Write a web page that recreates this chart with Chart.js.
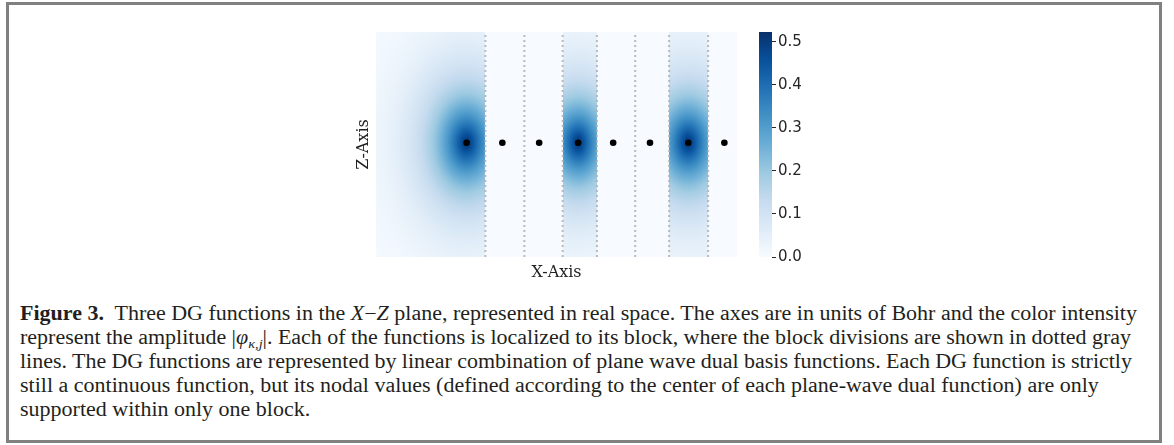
<!DOCTYPE html>
<html>
<head>
<meta charset="utf-8">
<title>DG functions in the X-Z plane</title>
<script src="https://cdn.jsdelivr.net/npm/chart.js"></script>
<style>
  body { margin: 0; background: #fff; width: 1174px; height: 445px; position: relative; overflow: hidden; }
  #frame { position: absolute; left: 6px; top: 2px; width: 1156px; height: 441px; box-sizing: border-box; border: 3px solid #808080; }
  #main { position: absolute; left: 340px; top: 20px; }
  #cbar { position: absolute; left: 740px; top: 20px; }
  #caption { position: absolute; left: 20px; top: 301px; font-family: "Liberation Serif", serif; font-size: 20px; line-height: 24px; color: #231f20; }
  #caption div { white-space: nowrap; height: 24px; }
  #caption span.ln { display: inline-block; transform-origin: 0 50%; transform: scaleX(1.1); }
  sub { font-size: 13px; line-height: 0; vertical-align: -4px; }
</style>
</head>
<body>
<div id="frame"></div>
<canvas id="main" width="420" height="270"></canvas>
<canvas id="cbar" width="80" height="270"></canvas>
<div id="caption">
  <div><span class="ln" data-r="1137"><b>Figure 3.</b>&nbsp; Three DG functions in the <i>X</i>−<i>Z</i> plane, represented in real space. The axes are in units of Bohr and the color intensity</span></div>
  <div><span class="ln" data-r="1131">represent the amplitude |<i>φ</i><sub><i>κ</i>,<i>j</i></sub>|. Each of the functions is localized to its block, where the block divisions are shown in dotted gray</span></div>
  <div><span class="ln" data-r="1132">lines. The DG functions are represented by linear combination of plane wave dual basis functions. Each DG function is strictly</span></div>
  <div><span class="ln">still a continuous function, but its nodal values (defined according to the center of each plane-wave dual function) are only</span></div>
  <div><span class="ln">supported within only one block.</span></div>
</div>

<script>
// plot range (Bohr)
const xMin = 0, xMax = 10;
const zMin = 0, zMax = 6.2;

// block divisions (dotted gray lines)
const blockEdges = [3.03, 4.11, 5.17, 6.12, 7.18, 8.12, 9.20];

// nodal points (black dots)
const nodeX = [2.51, 3.50, 4.52, 5.60, 6.57, 7.59, 8.65, 9.65];
const nodeZ = [3.15, 3.15, 3.15, 3.15, 3.15, 3.15, 3.15, 3.15];

// the three DG functions: centre, block, peak amplitude, spread along x and z
const dgCenterX = [2.51, 5.60, 8.65];
const dgCenterZ = [3.15, 3.15, 3.15];
const dgBlockFrom = [0, 5.17, 8.12];
const dgBlockTo = [3.03, 6.12, 9.20];
const dgPeak = [0.52, 0.52, 0.52];
const dgWidthX = [0.95, 0.85, 0.9];
const dgWidthZ = [1.4, 1.3, 1.35];
const dgShape = 1.15;

// colour bar
const colorMax = 0.523;
const colorbarTicks = [0.0, 0.1, 0.2, 0.3, 0.4, 0.5];

// matplotlib "Blues"
const bluesStops = ['#f7fbff', '#deebf7', '#c6dbef', '#9ecae1', '#6baed6', '#4292c6', '#2171b5', '#08519c', '#08306b'];
const bluesRgb = bluesStops.map(h => [1, 3, 5].map(i => parseInt(h.substr(i, 2), 16)));

function blues(t) {
    t = Math.max(0, Math.min(1, t));
    const s = t * (bluesRgb.length - 1);
    const i = Math.min(Math.floor(s), bluesRgb.length - 2);
    const f = s - i;
    return [0, 1, 2].map(c => Math.round(bluesRgb[i][c] + (bluesRgb[i + 1][c] - bluesRgb[i][c]) * f));
}

function dgValue(xv, zv) {
    let v = 0;
    for (let k = 0; k < dgCenterX.length; k++) {
        if (xv < dgBlockFrom[k] || xv > dgBlockTo[k]) continue;
        const r = Math.hypot((xv - dgCenterX[k]) / dgWidthX[k], (zv - dgCenterZ[k]) / dgWidthZ[k]);
        v = Math.max(v, dgPeak[k] * Math.exp(-Math.pow(r, dgShape)));
    }
    return v;
}

// paints the amplitude field under the datasets
const heatmapPlugin = {
    id: 'dgHeatmap',
    beforeDatasetsDraw(chart) {
        const { ctx, chartArea: a, scales: { x, y } } = chart;
        const w = Math.round(a.right - a.left), h = Math.round(a.bottom - a.top);
        const off = document.createElement('canvas');
        off.width = w; off.height = h;
        const octx = off.getContext('2d');
        const img = octx.createImageData(w, h);
        for (let j = 0; j < h; j++) {
            const zv = y.getValueForPixel(a.top + j + 0.5);
            for (let i = 0; i < w; i++) {
                const xv = x.getValueForPixel(a.left + i + 0.5);
                const c = blues(dgValue(xv, zv) / colorMax);
                const p = (j * w + i) * 4;
                img.data[p] = c[0]; img.data[p + 1] = c[1]; img.data[p + 2] = c[2]; img.data[p + 3] = 255;
            }
        }
        octx.putImageData(img, 0, 0);
        ctx.drawImage(off, a.left, a.top);
    }
};

const titleFont = { family: 'DejaVu Serif', size: 16, lineHeight: 1 };

const edgeSets = blockEdges.map(e => ({
    data: [{ x: e, y: zMin }, { x: e, y: zMax }],
    showLine: true,
    borderColor: 'rgba(175,175,175,0.85)',
    borderWidth: 2,
    borderDash: [2, 3],
    pointRadius: 0,
    order: 2
}));

new Chart(document.getElementById('main'), {
    type: 'scatter',
    data: {
        datasets: [...edgeSets, {
            data: nodeX.map((v, i) => ({ x: v, y: nodeZ[i] })),
            pointRadius: 3.3,
            pointBackgroundColor: '#000',
            pointBorderWidth: 0,
            order: 1
        }]
    },
    options: {
        responsive: false,
        animation: false,
        events: [],
        layout: { padding: { left: 8, top: 12, right: 23, bottom: 5 } },
        plugins: { legend: { display: false }, tooltip: { enabled: false } },
        scales: {
            x: {
                type: 'linear', min: xMin, max: xMax,
                ticks: { display: false }, grid: { display: false, drawTicks: false }, border: { display: false },
                title: { display: true, text: 'X-Axis', font: titleFont, color: '#222', padding: { top: 8, bottom: 4 } }
            },
            y: {
                type: 'linear', min: zMin, max: zMax,
                ticks: { display: false }, grid: { display: false, drawTicks: false }, border: { display: false },
                title: { display: true, text: 'Z-Axis', font: titleFont, color: '#222', padding: { top: 8, bottom: 4 } }
            }
        }
    },
    plugins: [heatmapPlugin]
});

// colour bar
const gradientPlugin = {
    id: 'cbarGradient',
    beforeDatasetsDraw(chart) {
        const { ctx, chartArea: a, scales: { y } } = chart;
        const g = ctx.createLinearGradient(0, y.getPixelForValue(0), 0, y.getPixelForValue(colorMax));
        bluesStops.forEach((c, i) => g.addColorStop(i / (bluesStops.length - 1), c));
        ctx.fillStyle = g;
        ctx.fillRect(a.left, a.top, a.right - a.left, a.bottom - a.top);
    }
};

new Chart(document.getElementById('cbar'), {
    type: 'scatter',
    data: { datasets: [{ data: [] }] },
    options: {
        responsive: false,
        animation: false,
        events: [],
        layout: { padding: { left: 19, top: 12, right: 0, bottom: 33 } },
        plugins: { legend: { display: false }, tooltip: { enabled: false } },
        scales: {
            x: { display: false, min: 0, max: 1 },
            y: {
                position: 'right', min: 0, max: colorMax,
                afterBuildTicks: s => { s.ticks = colorbarTicks.map(v => ({ value: v })); },
                afterFit: s => { s.width = 48; },
                ticks: { font: { family: 'DejaVu Sans', size: 15 }, color: '#262626', padding: 2, callback: v => v.toFixed(1) },
                grid: { drawOnChartArea: false, drawTicks: true, tickLength: 4, color: '#262626', lineWidth: 1 },
                border: { display: false }
            }
        }
    },
    plugins: [gradientPlugin]
});

// justify the full caption lines to the widths of the printed figure
const captionScale = 1.1;
function fitCaption() {
    document.querySelectorAll('.ln[data-r]').forEach(el => {
        el.style.wordSpacing = '0px';
        const w = el.getBoundingClientRect().width;
        const target = +el.dataset.r - 20;
        const gaps = (el.textContent.match(/ /g) || []).length;
        el.style.wordSpacing = ((target - w) / gaps / captionScale) + 'px';
    });
}
fitCaption();
if (document.fonts) document.fonts.ready.then(fitCaption);
</script>
</body>
</html>
